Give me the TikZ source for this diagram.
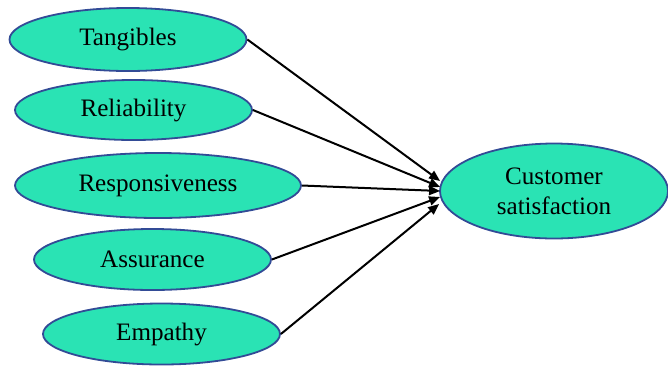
\documentclass[tikz,border=0pt]{standalone}
\usepackage{fontspec}
\setmainfont{Liberation Serif}
\usetikzlibrary{shapes.geometric,arrows.meta}
\definecolor{fillc}{RGB}{42,227,180}
\definecolor{edgec}{RGB}{50,75,150}
\begin{document}
\begin{tikzpicture}[x=1bp,y=-1bp,
  oval/.style={ellipse,draw=edgec,fill=fillc,line width=1.8bp,inner sep=0pt,
    font=\fontsize{25.2}{30}\selectfont,align=center},
  link/.style={line width=2bp,-{Triangle[length=11bp,width=9bp]}}]
\useasboundingbox (0,0) rectangle (668,365);
\node[oval,minimum width=237bp,minimum height=63bp] (tan) at (128,39.5) {Tangibles};
\node[oval,minimum width=237bp,minimum height=60bp] (rel) at (133.5,110) {Reliability};
\node[oval,minimum width=286bp,minimum height=65bp] (res) at (158,185.5) {Responsiveness};
\node[oval,minimum width=237bp,minimum height=61bp] (ass) at (152.5,259.5) {Assurance};
\node[oval,minimum width=237bp,minimum height=61bp] (emp) at (161.5,334) {Empathy};
\node[oval,minimum width=228bp,minimum height=95bp] (cs) at (554,191) {Customer\\satisfaction};
\draw[link] (tan.east) -- ([shift={(1,-10)}]cs.west);
\draw[link] (rel.east) -- ([shift={(1,-4)}]cs.west);
\draw[link] (res.east) -- ([shift={(1,0)}]cs.west);
\draw[link] (ass.east) -- ([shift={(1,6)}]cs.west);
\draw[link] (emp.east) -- ([shift={(0,13)}]cs.west);
\end{tikzpicture}
\end{document}
